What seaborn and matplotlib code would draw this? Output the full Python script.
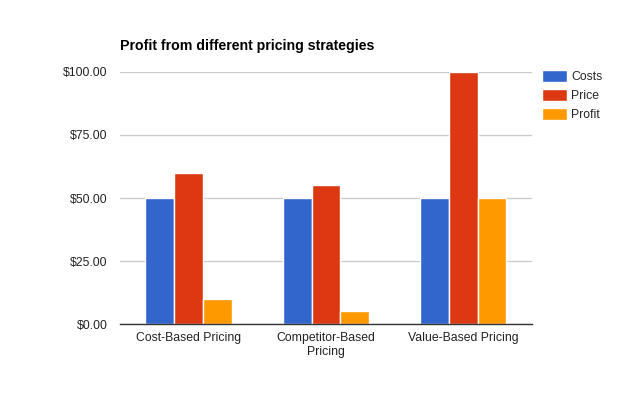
import pandas as pd
import seaborn as sns
import matplotlib.pyplot as plt
from matplotlib.ticker import FuncFormatter

# chart data
strategies = ['Cost-Based Pricing', 'Competitor-Based\nPricing', 'Value-Based Pricing']
costs = [50, 50, 50]
price = [60, 55, 100]
profit = [10, 5, 50]
series = ['Costs', 'Price', 'Profit']
colors = ['#3366CC', '#DC3912', '#FF9900']

df = pd.DataFrame({
    'strategy': strategies * 3,
    'value': costs + price + profit,
    'series': ['Costs'] * 3 + ['Price'] * 3 + ['Profit'] * 3,
})

sns.set_style('white')
plt.rcParams['font.family'] = ['Liberation Sans', 'DejaVu Sans']

fig = plt.figure(figsize=(6.4, 3.96), dpi=100)
ax = fig.add_axes([0.1875, 0.1818, 0.6435, 0.6364])

sns.barplot(data=df, x='strategy', y='value', hue='series', hue_order=series,
            palette=colors, width=0.63, edgecolor='white', linewidth=1,
            saturation=1, ax=ax)

ax.set_ylim(0, 100)
ax.set_yticks([0, 25, 50, 75, 100])
ax.yaxis.set_major_formatter(FuncFormatter(lambda v, p: f'${v:,.2f}'))
ax.grid(axis='y', color='#cccccc', linewidth=1)
ax.set_axisbelow(True)
for s in ['top', 'right', 'left']:
    ax.spines[s].set_visible(False)
ax.spines['bottom'].set_color('#333333')
ax.spines['bottom'].set_linewidth(1)
ax.tick_params(axis='both', length=0, labelsize=8.8, colors='#222222')
ax.tick_params(axis='y', pad=9)
ax.tick_params(axis='x', pad=6)
ax.set_xlabel('')
ax.set_ylabel('')

ax.set_title('Profit from different pricing strategies', loc='left',
             fontsize=10.2, fontweight='bold', color='#000000', pad=16)

handles, labels = ax.get_legend_handles_labels()
ax.legend(handles, labels, loc='upper left', bbox_to_anchor=(0.84, 0.835),
          bbox_transform=fig.transFigure, frameon=False, fontsize=8.8,
          handlelength=2.0, handleheight=1.15, handletextpad=0.35,
          labelspacing=0.45, borderaxespad=0)

fig.savefig('out.png', dpi=100)
